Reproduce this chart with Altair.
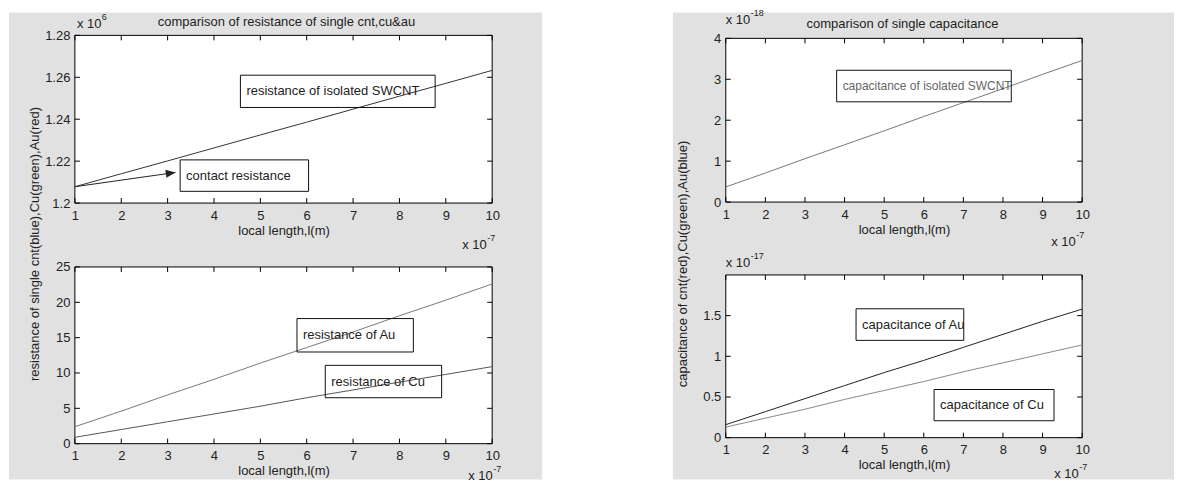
import altair as alt
import pandas as pd

# ---------------- data ----------------
length_x = [1, 2, 3, 4, 5, 6, 7, 8, 9, 10]          # local length, x 1e-7 m
res_cnt = [1.2078, 1.2140, 1.2201, 1.2263, 1.2325, 1.2386, 1.2448, 1.2510, 1.2571, 1.2633]  # x 1e6
res_au = [2.4, 4.6, 6.9, 9.1, 11.4, 13.6, 15.8, 18.1, 20.3, 22.6]
res_cu = [0.9, 2.0, 3.1, 4.2, 5.3, 6.5, 7.6, 8.7, 9.8, 10.9]
cap_cnt = [0.37, 0.71, 1.06, 1.40, 1.74, 2.09, 2.43, 2.77, 3.12, 3.46]   # x 1e-18
cap_au = [0.16, 0.32, 0.48, 0.64, 0.80, 0.95, 1.11, 1.27, 1.43, 1.58]    # x 1e-17
cap_cu = [0.13, 0.24, 0.35, 0.47, 0.58, 0.69, 0.81, 0.92, 1.03, 1.14]

x_ticks = [1, 2, 3, 4, 5, 6, 7, 8, 9, 10]
tl_yticks = [1.2, 1.22, 1.24, 1.26, 1.28]
bl_yticks = [0, 5, 10, 15, 20, 25]
tr_yticks = [0, 1, 2, 3, 4]
br_yticks = [0, 0.5, 1, 1.5]

# annotation boxes: x0, x1, y0, y1, label
tl_boxes = [(4.57, 8.77, 1.2456, 1.2610, "resistance of isolated SWCNT"),
            (3.27, 6.04, 1.2056, 1.2206, "contact resistance")]
bl_boxes = [(5.79, 8.30, 12.97, 17.7, "resistance of Au"),
            (6.40, 8.91, 6.5, 11.08, "resistance of Cu")]
tr_boxes = [(3.80, 8.21, 2.45, 3.22, "capacitance of isolated SWCNT")]
br_boxes = [(4.29, 7.01, 1.196, 1.584, "capacitance of Au"),
            (6.26, 9.29, 0.208, 0.592, "capacitance of Cu")]

arrow_x = [1.0, 3.17]
arrow_y = [1.2078, 1.2146]

FONT = "Liberation Sans, Arial"
TXT = "#222222"
GRAY = "#e1e1e1"


def panel(w, h, ydom, yticks, series, boxes, xtitle, top=0, box_fs=13, box_color=TXT,
          extra=None, bg=None, title=None, ytitle=None, yexp=None, xexp=None):
    xs = alt.Scale(domain=[1, 10], nice=False, zero=False)
    ys = alt.Scale(domain=ydom, nice=False, zero=False, range=[h, top])
    xaxis = alt.Axis(values=x_ticks, ticks=False, domain=False, grid=False,
                     labelFont=FONT, labelFontSize=13, labelColor=TXT, labelPadding=6,
                     labelFlush=False, labelOverlap=False, format="~r",
                     title=xtitle, titleFont=FONT, titleFontSize=13, titleFontWeight="normal",
                     titleColor=TXT, titlePadding=2, zindex=1)
    yaxis = alt.Axis(values=yticks, ticks=False, domain=False, grid=False,
                     labelFont=FONT, labelFontSize=13, labelColor=TXT, labelPadding=5,
                     labelFlush=False, labelOverlap=False, format="~r", title=None, zindex=1)

    def X(f):
        return alt.X(f, type="quantitative", scale=xs, axis=xaxis)

    def Y(f):
        return alt.Y(f, type="quantitative", scale=ys, axis=yaxis)

    one = pd.DataFrame({"k": [0]})
    layers = []
    if bg is not None:
        layers.append(alt.Chart(one).mark_rect(color=GRAY, clip=False).encode(
            x=alt.value(bg[0]), x2=alt.value(bg[1]), y=alt.value(bg[2]), y2=alt.value(bg[3])))
    # plot frame
    layers.append(alt.Chart(one).mark_rect(fill="white", stroke="black", strokeWidth=1).encode(
        x=alt.value(0), x2=alt.value(w), y=alt.value(top), y2=alt.value(h)))
    # series lines
    for vals, color in series:
        df = pd.DataFrame({"x": length_x, "v": vals})
        layers.append(alt.Chart(df).mark_line(color=color, strokeWidth=1).encode(x=X("x"), y=Y("v")))
    # boxes
    bdf = pd.DataFrame({"x0": [b[0] for b in boxes], "x1": [b[1] for b in boxes],
                        "y0": [b[2] for b in boxes], "y1": [b[3] for b in boxes],
                        "lab": [b[4] for b in boxes]})
    bdf["ym"] = (bdf["y0"] + bdf["y1"]) / 2
    layers.append(alt.Chart(bdf).mark_rect(fill=None, stroke="#111", strokeWidth=1).encode(
        x=X("x0"), x2="x1", y=Y("y0"), y2="y1"))
    layers.append(alt.Chart(bdf).mark_text(align="left", baseline="middle", dx=6, font=FONT,
                                           fontSize=box_fs, color=box_color).encode(
        x=X("x0"), y=Y("ym"), text="lab:N"))
    if extra is not None:
        layers.extend(extra(X, Y))
    # inward ticks
    xt = pd.DataFrame({"t": x_ticks})
    yt = pd.DataFrame({"t": yticks})
    layers.append(alt.Chart(xt).mark_rule(color="black", strokeWidth=1).encode(
        x=X("t"), y=alt.value(h), y2=alt.value(h - 5)))
    layers.append(alt.Chart(xt).mark_rule(color="black", strokeWidth=1).encode(
        x=X("t"), y=alt.value(top), y2=alt.value(top + 5)))
    layers.append(alt.Chart(yt).mark_rule(color="black", strokeWidth=1).encode(
        y=Y("t"), x=alt.value(0), x2=alt.value(5)))
    layers.append(alt.Chart(yt).mark_rule(color="black", strokeWidth=1).encode(
        y=Y("t"), x=alt.value(w - 5), x2=alt.value(w)))

    def txt(s, x, y, fs=13, align="left"):
        return alt.Chart(one).mark_text(text=s, align=align, baseline="middle", font=FONT,
                                        fontSize=fs, color=TXT).encode(
            x=alt.value(x), y=alt.value(y))
    if title is not None:
        layers.append(txt(title[0], title[1], title[2], fs=13, align="center"))
    if ytitle is not None:
        layers.append(alt.Chart(one).mark_text(text=ytitle[0], align="center", baseline="middle",
                                               font=FONT, fontSize=13,
                                               color=TXT, angle=270).encode(
            x=alt.value(ytitle[1]), y=alt.value(ytitle[2])))
    for e in (yexp, xexp):
        if e is not None:
            layers.append(txt("x 10", e[1], e[2], fs=13))
            layers.append(txt(e[0], e[1] + 25, e[2] - 7, fs=9))
    return alt.layer(*layers).properties(
        width=w, height=h,
        view=alt.ViewBackground(fill="transparent", stroke="transparent"))


def tl_arrow(X, Y):
    adf = pd.DataFrame({"x": arrow_x, "v": arrow_y})
    head = adf.iloc[[1]]
    return [
        alt.Chart(adf).mark_line(color="#222", strokeWidth=1).encode(x=X("x"), y=Y("v")),
        alt.Chart(head).mark_point(shape="M0,0L-1,-0.42L-1,0.42Z", filled=True, color="#222",
                                   opacity=1, size=380, angle=352).encode(x=X("x"), y=Y("v")),
    ]


tl = panel(418, 168, [1.2, 1.28], tl_yticks, [(res_cnt, "#333333")], tl_boxes,
           "local length,l(m)", extra=tl_arrow, bg=(-66, 468, -23, 445),
           title=("comparison of resistance of single cnt,cu&au", 212, -13),
           ytitle=("resistance of single cnt(blue),Cu(green),Au(red)", -40, 209),
           yexp=("6", 2, -11), xexp=("-7", 388, 210))
tr = panel(357, 167, [0, 4], tr_yticks, [(cap_cnt, "#777777")], tr_boxes,
           "local length,l(m)", top=3, box_fs=12, box_color="#666666", bg=(-53, 449, -23, 445),
           title=("comparison of single capacitance", 177, -11),
           ytitle=("capacitance of cnt(red),Cu(green),Au(blue)", -43, 229),
           yexp=("-18", 0, -15), xexp=("-7", 326, 207))
bl = panel(418, 177, [0, 25], bl_yticks, [(res_au, "#777777"), (res_cu, "#555555")], bl_boxes,
           "local length,l(m)", xexp=("-7", 394, 209))
br = panel(357, 171, [0, 2], br_yticks, [(cap_au, "#222222"), (cap_cu, "#888888")], br_boxes,
           "local length,l(m)", top=8, yexp=("-17", 0, -4), xexp=("-7", 329, 207))

chart = alt.concat(tl, tr, bl, br, columns=2,
                   spacing=alt.RowColnumber(row=64, column=234), bounds="flush").properties(
    background="white", padding=0
).configure_view(fill="transparent", stroke="transparent")

chart.save("out.html", embed_options={"renderer": "svg", "actions": False})
